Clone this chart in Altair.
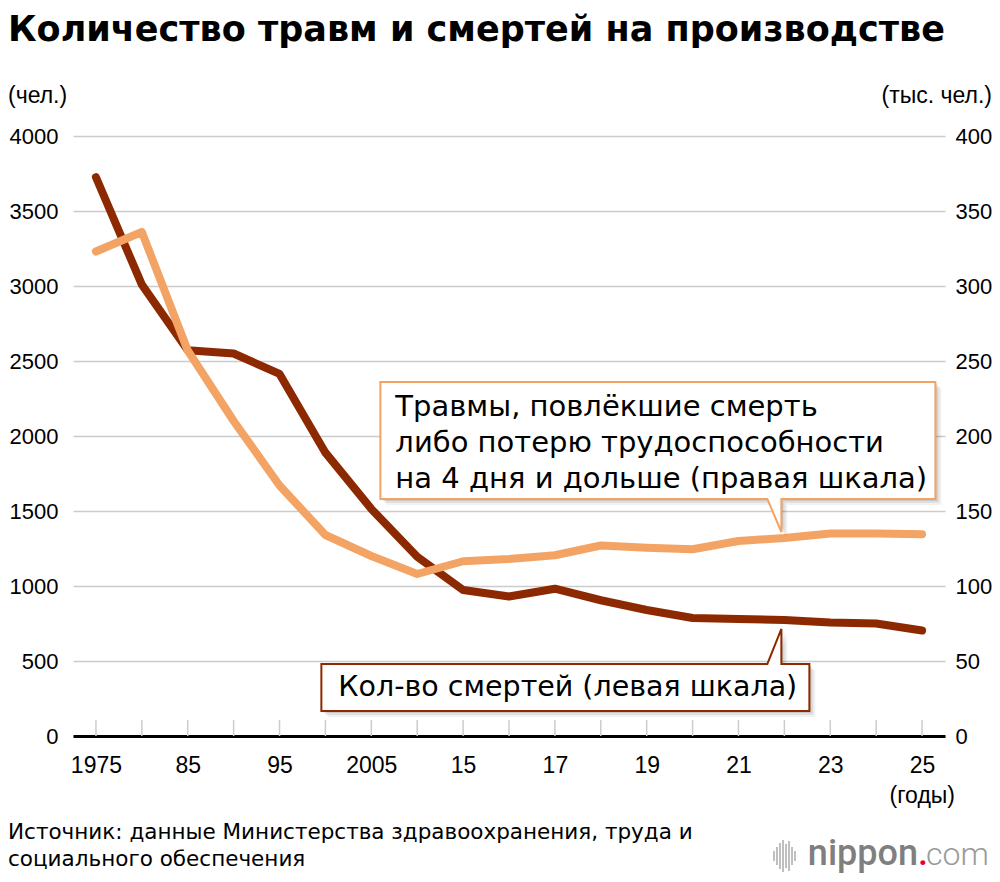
import pandas as pd
import altair as alt

years = [1975, 1980, 1985, 1990, 1995, 2000, 2005, 2010, 2015, 2016,
         2017, 2018, 2019, 2020, 2021, 2022, 2023, 2024, 2025]
deaths = [3725, 3009, 2572, 2550, 2414, 1889, 1514, 1195, 973, 930,
          982, 905, 840, 787, 780, 774, 757, 750, 703]
injuries = [323, 336, 257, 210, 167, 134, 120, 108, 116.5, 118,
            120.5, 127, 125.5, 124.5, 130, 132, 135, 135, 134.5]

shown_years = [1975, 1985, 1995, 2005, 2015, 2017, 2019, 2021, 2023, 2025]
shown_labels = ["1975", "85", "95", "2005", "15", "17", "19", "21", "23", "25"]
left_ticks = [0, 500, 1000, 1500, 2000, 2500, 3000, 3500, 4000]
right_ticks = [0, 50, 100, 150, 200, 250, 300, 350, 400]

callout_year = 2022
injury_note = ["Травмы, повлёкшие смерть",
               "либо потерю трудоспособности",
               "на 4 дня и дольше (правая шкала)"]
death_note = "Кол-во смертей (левая шкала)"

DARK = "#8c2900"
LIGHT = "#f3a464"
AXIS_FONT = "Liberation Sans"
NOTE_FONT = "DejaVu Sans"

df = pd.DataFrame({"year": years, "deaths": deaths, "injuries": injuries})

x_enc = alt.X(
    "year:O",
    scale=alt.Scale(type="point", padding=0.5),
    axis=alt.Axis(
        values=shown_years,
        labelExpr=f"{shown_labels}[indexof({shown_years}, datum.value)]",
        title=None, labelAngle=0, grid=False,
        ticks=False, tickSize=0,
        domain=True, domainColor="black", domainWidth=3,
        labelFont=AXIS_FONT, labelFontSize=23, labelColor="black",
        labelPadding=18,
    ),
)

y_left = alt.Y(
    "deaths:Q",
    scale=alt.Scale(domain=[0, 4000]),
    axis=alt.Axis(
        values=left_ticks, format="d", title=None, grid=True,
        gridColor="#cccccc", gridWidth=1.5,
        domain=False, ticks=False, tickSize=0,
        labelFont=AXIS_FONT, labelFontSize=22, labelColor="black",
        labelPadding=15,
    ),
)

y_right = alt.Y(
    "injuries:Q",
    scale=alt.Scale(domain=[0, 400]),
    axis=alt.Axis(
        orient="right", values=right_ticks, format="d", title=None, grid=False,
        domain=False, ticks=False, tickSize=0,
        labelFont=AXIS_FONT, labelFontSize=22, labelColor="black",
        labelPadding=10,
    ),
)

# callout shapes, drawn relative to the data point they point at
orange_box = "M-404,-156 L151,-156 L151,-39 L-3,-39 L-3,-6 L-17,-39 L-404,-39 Z"
brown_box = "M-463,44 L-17,44 L-3,9 L-3,44 L25,44 L25,91 L-463,91 Z"
# little sound-wave mark in front of the logo
wave_icon = ("M-10,-5 L-10,5 M-7,-9 L-7,9 M-4,-13 L-4,13 M-1,-16 L-1,16 "
             "M2,-12 L2,12 M5,-15 L5,15 M8,-9 L8,9 M11,-5 L11,5")

base = alt.Chart(df)
at_callout = base.transform_filter(alt.datum.year == callout_year)


def shadow(path, y):
    layers = []
    for off, op in [(2, 0.10), (4, 0.08), (6, 0.05)]:
        layers.append(
            at_callout.mark_point(shape=path, size=4, filled=True, color="black",
                                  opacity=op, strokeWidth=0, xOffset=off, yOffset=off)
            .encode(x=x_enc, y=y)
        )
    return layers


def note(text, x, y, **kw):
    return (alt.Chart(alt.Data(values=[{}]))
            .mark_text(text=text, **kw)
            .encode(x=alt.value(x), y=alt.value(y)))


ticks = base.mark_rule(color="#cccccc", strokeWidth=1.5).encode(
    x=x_enc, y=alt.value(584), y2=alt.value(600))

death_line = base.mark_line(color=DARK, strokeWidth=8, strokeCap="round",
                            strokeJoin="round").encode(x=x_enc, y=y_left)

death_box = at_callout.mark_point(
    shape=brown_box, size=4, filled=True, fill="white", stroke=DARK,
    strokeWidth=2, opacity=1).encode(x=x_enc, y=y_left)

death_text = at_callout.mark_text(
    text=death_note, align="left", baseline="alphabetic", dx=-446, dy=76,
    font=NOTE_FONT, fontSize=28.5, color="black").encode(x=x_enc, y=y_left)

injury_line = base.mark_line(color=LIGHT, strokeWidth=8, strokeCap="round",
                             strokeJoin="round").encode(x=x_enc, y=y_right)

injury_box = at_callout.mark_point(
    shape=orange_box, size=4, filled=True, fill="white", stroke=LIGHT,
    strokeWidth=2, opacity=1).encode(x=x_enc, y=y_right)

injury_text = at_callout.mark_text(
    text=injury_note, align="left", baseline="alphabetic", dx=-389, dy=-122,
    lineHeight=36, font=NOTE_FONT, fontSize=29, color="black").encode(x=x_enc, y=y_right)

decor = [
    note("Количество травм и смертей на производстве", -65, -95, align="left",
         baseline="alphabetic", font=NOTE_FONT, fontSize=35, fontWeight="bold", color="black"),
    note("(чел.)", -65, -33, align="left", baseline="alphabetic",
         font=AXIS_FONT, fontSize=23, color="black"),
    note("(тыс. чел.)", 919, -33, align="right", baseline="alphabetic",
         font=AXIS_FONT, fontSize=23, color="black"),
    note("(годы)", 882, 667, align="right", baseline="alphabetic",
         font=AXIS_FONT, fontSize=23, color="black"),
    note(["Источник: данные Министерства здравоохранения, труда и",
          "социального обеспечения"], -65, 703, align="left", baseline="alphabetic",
         lineHeight=27, font=NOTE_FONT, fontSize=21.5, color="black"),
    alt.Chart(alt.Data(values=[{}]))
    .mark_point(shape=wave_icon, size=4, filled=False, color="#b0b0b0",
                strokeWidth=1.6, opacity=1)
    .encode(x=alt.value(711), y=alt.value(720)),
    note("nippon", 845, 729, align="right", baseline="alphabetic",
         font="Roboto", fontSize=36, fontWeight=500, color="#7f7f7f"),
    note(".", 845, 729, align="left", baseline="alphabetic",
         font="Roboto", fontSize=36, fontWeight=500, color="#e5002d"),
    note("com", 853, 729, align="left", baseline="alphabetic",
         font="Roboto", fontSize=32, fontWeight=300, color="#9a9a9a"),
]

left = alt.layer(ticks, death_line, *shadow(brown_box, y_left), death_box, death_text, *decor)
right = alt.layer(injury_line, *shadow(orange_box, y_right), injury_box, injury_text)

chart = (
    alt.layer(left, right)
    .resolve_scale(y="independent")
    .properties(
        width=872, height=600,
        autosize=alt.AutoSizeParams(type="none"),
        padding={"left": 65, "top": 128, "right": 47, "bottom": 138},
        background="white",
    )
    .configure_view(stroke=None)
)

chart.save("out.html", embed_options={"renderer": "svg", "actions": False})
